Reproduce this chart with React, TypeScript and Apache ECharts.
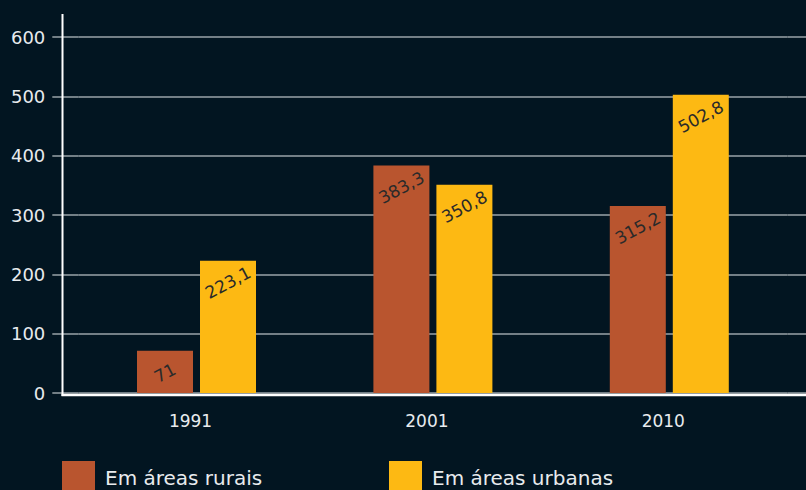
import React, { useEffect, useRef } from "react";
import * as echarts from "echarts";

const categories = ["1991", "2001", "2010"];
const ruralValues = [71, 383.3, 315.2];
const urbanValues = [223.1, 350.8, 502.8];
const ruralName = "Em áreas rurais";
const urbanName = "Em áreas urbanas";

const BG = "#021521";
const RURAL = "#B9552F";
const URBAN = "#FDB913";
const GRID_LINE = "#9aa3a8";
const TEXT = "#e8ebee";
const FONT = "DejaVu Sans";

const fmt = (v: number) => String(v).replace(".", ",");

export default function App() {
  const ref = useRef<HTMLDivElement>(null);
  useEffect(() => {
    if (!ref.current) return;
    const chart = echarts.init(ref.current, undefined, { renderer: "svg" });
    const barLabel = {
      show: true,
      position: ["50%", 22] as any,
      align: "center",
      verticalAlign: "middle",
      rotate: 28,
      color: "#2a2a2a",
      fontSize: 17,
      fontFamily: FONT,
      formatter: (p: any) => fmt(p.value),
    };
    const legendText = { color: TEXT, fontSize: 20, fontFamily: FONT, padding: [0, 0, 4, 5] };
    chart.setOption({
      animation: false,
      backgroundColor: BG,
      textStyle: { fontFamily: FONT },
      grid: { left: 78.3, right: 18.5, top: 37, bottom: 97, containLabel: false },
      legend: [
        {
          data: [ruralName],
          left: 62,
          top: 461,
          itemWidth: 33,
          itemHeight: 33,
          icon: "rect",
          padding: 0,
          textStyle: legendText,
        },
        {
          data: [urbanName],
          left: 389,
          top: 461,
          itemWidth: 33,
          itemHeight: 33,
          icon: "rect",
          padding: 0,
          textStyle: legendText,
        },
      ],
      xAxis: {
        type: "category",
        data: categories,
        axisLine: { show: false },
        axisTick: { show: false },
        axisLabel: { color: TEXT, fontSize: 17, fontFamily: FONT, margin: 19, padding: [0, 12, 0, 0] },
      },
      yAxis: [
        {
          type: "value",
          min: 0,
          max: 600,
          interval: 100,
          axisLine: { show: false },
          axisTick: { show: true, length: 26, lineStyle: { color: GRID_LINE, width: 1.5 } },
          axisLabel: { color: TEXT, fontSize: 18, fontFamily: FONT, margin: 33 },
          splitLine: { show: true, lineStyle: { color: GRID_LINE, width: 1.5 } },
        },
        {
          type: "value",
          position: "right",
          min: 0,
          max: 600,
          interval: 100,
          axisLine: { show: false },
          axisTick: { show: true, length: 19, lineStyle: { color: GRID_LINE, width: 1.5 } },
          axisLabel: { show: false },
          splitLine: { show: false },
        },
      ],
      series: [
        {
          name: ruralName,
          type: "bar",
          data: ruralValues,
          barWidth: 56,
          barGap: "12.5%",
          itemStyle: { color: RURAL },
          label: barLabel,
        },
        {
          name: urbanName,
          type: "bar",
          data: urbanValues,
          barWidth: 56,
          barGap: "12.5%",
          itemStyle: { color: URBAN },
          label: barLabel,
        },
      ],
      graphic: [
        {
          type: "line",
          z: 100,
          shape: { x1: 62.5, y1: 14, x2: 62.5, y2: 396 },
          style: { stroke: "#ffffff", lineWidth: 2 },
        },
        {
          type: "line",
          z: 100,
          shape: { x1: 61.5, y1: 395, x2: 806, y2: 395 },
          style: { stroke: "#ffffff", lineWidth: 2.5 },
        },
      ],
    });
    return () => chart.dispose();
  }, []);
  return (
    <div
      ref={ref}
      style={{ position: "fixed", left: 0, top: 0, width: 806, height: 490 }}
    />
  );
}
